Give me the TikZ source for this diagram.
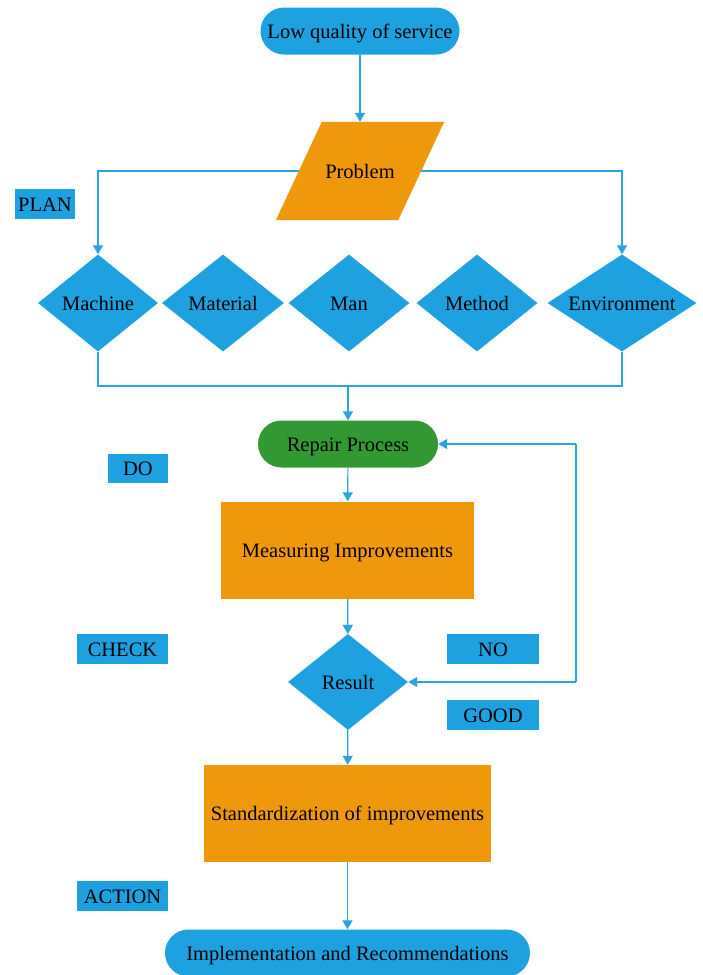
\documentclass[tikz,border=0pt]{standalone}
\usepackage{fontspec}
\setmainfont{Liberation Serif}
\usetikzlibrary{shapes.geometric,arrows.meta,backgrounds}
\definecolor{cblue}{HTML}{1DA1E0}
\definecolor{corange}{HTML}{F0980C}
\definecolor{cgreen}{HTML}{339933}
\definecolor{cline}{HTML}{2AA3DE}
\begin{document}
\begin{tikzpicture}[x=1pt,y=-1pt,
  every node/.style={font=\fontsize{20.5}{24}\selectfont, text=black, inner sep=0pt, text height=14pt, text depth=0pt},
  pill/.style={fill=#1, rounded corners=23.5pt, minimum height=47pt},
  dia/.style={diamond, fill=cblue, aspect=1.24, minimum width=120pt, minimum height=97pt},
  orect/.style={fill=corange, minimum height=97pt},
  tag/.style={fill=cblue, minimum height=30pt},
  conn/.style={draw=cline, line width=1.2pt},
  arr/.style={conn, -{Triangle[width=10pt,length=9pt]}}
]
\useasboundingbox (0,0) rectangle (702,975);
\clip (0,0) rectangle (702,975);

\node[pill=cblue, minimum width=199pt] (low) at (360,31) {Low quality of service};
\node[minimum width=122pt, minimum height=98pt] (prob) at (360,171) {Problem};
\begin{scope}[on background layer]
\fill[corange] ([xshift=23pt]prob.north west) -- ([xshift=23pt]prob.north east)
  -- ([xshift=-23pt]prob.south east) -- ([xshift=-23pt]prob.south west) -- cycle;
\end{scope}

\node[dia] (mach) at (98,303) {Machine};
\node[dia, minimum width=122pt] (mat) at (223,303) {Material};
\node[dia, minimum width=121pt] (man) at (349,303) {Man};
\node[dia, minimum width=121pt] (meth) at (477,303) {Method};
\node[dia, aspect=1.54, minimum width=149pt] (env) at (622,303) {Environment};

\node[pill=cgreen, minimum width=180pt] (rep) at (348,444) {Repair Process};
\node[orect, minimum width=253pt] (meas) at (347.5,550) {Measuring Improvements};
\node[dia, minimum width=120pt, minimum height=96pt] (res) at (348,682) {Result};
\node[orect, minimum width=287pt] (std) at (347.5,813.5) {Standardization of improvements};
\node[pill=cblue, minimum width=365pt] (impl) at (347.5,953) {Implementation and Recommendations};

\node[tag, minimum width=60pt] (plan) at (45,204) {PLAN};
\node[tag, minimum width=60pt, minimum height=29pt] (do) at (138,468.5) {DO};
\node[tag, minimum width=91pt] (check) at (122.5,649) {CHECK};
\node[tag, minimum width=92pt] (no) at (493,649) {NO};
\node[tag, minimum width=92pt] (good) at (493,715) {GOOD};
\node[tag, minimum width=91pt] (action) at (122.5,896) {ACTION};

\coordinate (join) at (348,386);
\coordinate (lt) at (576,444);
\coordinate (lb) at (576,682);

\draw[arr] (low) -- (prob);
\draw[arr] (prob.west) -| (mach.north);
\draw[arr] (prob.east) -| (env.north);
\draw[conn] (mach.south) |- (join) -| (env.south);
\draw[arr] (join) -- (rep.north);
\draw[arr] (rep) -- (meas);
\draw[arr] (meas) -- (res);
\draw[conn] (lb) -- (lt);
\draw[arr] (lt) -- (rep.east);
\draw[arr] (lb) -- (res.east);
\draw[arr] (res) -- (std);
\draw[arr] (std) -- (impl);
\end{tikzpicture}
\end{document}
